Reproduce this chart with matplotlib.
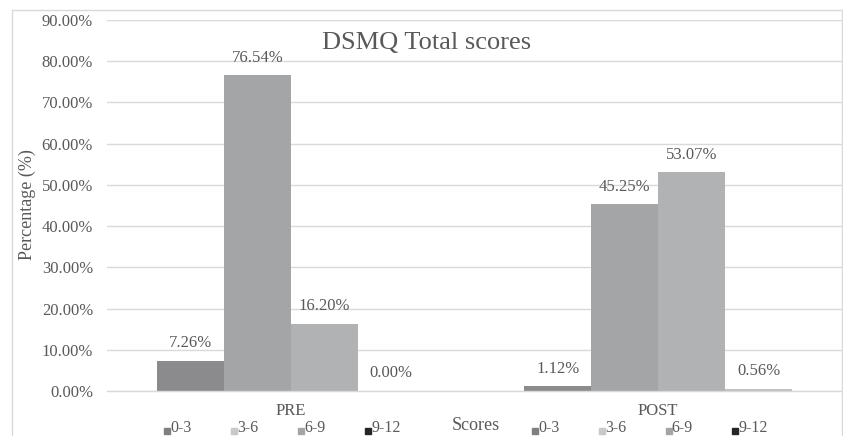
import numpy as np
import matplotlib
matplotlib.use("Agg")
import matplotlib.pyplot as plt
from matplotlib.patches import Rectangle
from matplotlib.transforms import blended_transform_factory

# chart data
groups = ["PRE", "POST"]
score_bands = ["0-3", "3-6", "6-9", "9-12"]
pre_values = [7.26, 76.54, 16.20, 0.00]
post_values = [1.12, 45.25, 53.07, 0.56]
y_ticks = [0, 10, 20, 30, 40, 50, 60, 70, 80, 90]

bar_colors = ["#8b8b8d", "#a4a5a7", "#b1b2b4", "#bfc0c2"]
legend_colors = ["#7f7f7f", "#c9c9c9", "#a5a5a5", "#262626"]
text_color = "#595959"
grid_color = "#d9d9d9"

plt.rcParams["font.family"] = ["Liberation Serif", "DejaVu Serif"]

W, H = 843, 436
fig = plt.figure(figsize=(W / 100, H / 100), dpi=100)
ax = fig.add_axes([107 / W, 1 - 391 / H, (842 - 107) / W, (391 - 20) / H])

# outer chart border
fig.patches.append(Rectangle((12 / W, -0.02), 830 / W, 1.02 - 10 / H,
                             transform=fig.transFigure, fill=False,
                             edgecolor=grid_color, linewidth=1.0))

width = 0.182
x = np.arange(len(groups))
values = np.array([pre_values, post_values])

for j, band in enumerate(score_bands):
    xs = x + (j - 1.5) * width
    ax.bar(xs, values[:, j], width=width, color=bar_colors[j], zorder=2)
    for xi, v in zip(xs, values[:, j]):
        ax.annotate(f"{v:.2f}%", (xi, v), xytext=(0, 7), textcoords="offset points",
                    ha="center", va="bottom", fontsize=12, color=text_color)

ax.set_xlim(-0.5, 1.5)
ax.set_ylim(0, 90)
ax.set_yticks(y_ticks)
ax.set_yticklabels([f"{t:.2f}%" for t in y_ticks], fontsize=12, color=text_color)
ax.tick_params(axis="y", length=0, pad=10)
ax.set_xticks([])
ax.grid(axis="y", color=grid_color, linewidth=1.0, zorder=0)
ax.set_axisbelow(True)
for s in ["top", "right", "left"]:
    ax.spines[s].set_visible(False)
ax.spines["bottom"].set_color(grid_color)
ax.spines["bottom"].set_linewidth(1.0)

# category labels and the small legend rows under each group
tr = blended_transform_factory(ax.transData, fig.transFigure)
for i, g in enumerate(groups):
    ax.text(x[i], 1 - 411 / H, g, transform=tr, ha="center", va="center",
            fontsize=12, color=text_color)
    for j, band in enumerate(score_bands):
        mx = x[i] + (j - 2) * width + 0.028
        ax.plot([mx], [1 - 431 / H], marker="s", markersize=4.5, color=legend_colors[j],
                transform=tr, clip_on=False, linestyle="none")
        ax.text(mx + 0.009, 1 - 428 / H, band, transform=tr, ha="left", va="center",
                fontsize=11.5, color=text_color)

fig.text(476 / W, 1 - 425 / H, "Scores", ha="center", va="center",
         fontsize=13, color=text_color)
fig.text(27 / W, 1 - 205 / H, "Percentage (%)", ha="center", va="center",
         rotation=90, fontsize=13, color=text_color)
fig.text(427 / W, 1 - 43 / H, "DSMQ Total scores", ha="center", va="center",
         fontsize=19, color=text_color)

fig.savefig("out.png", dpi=100)
